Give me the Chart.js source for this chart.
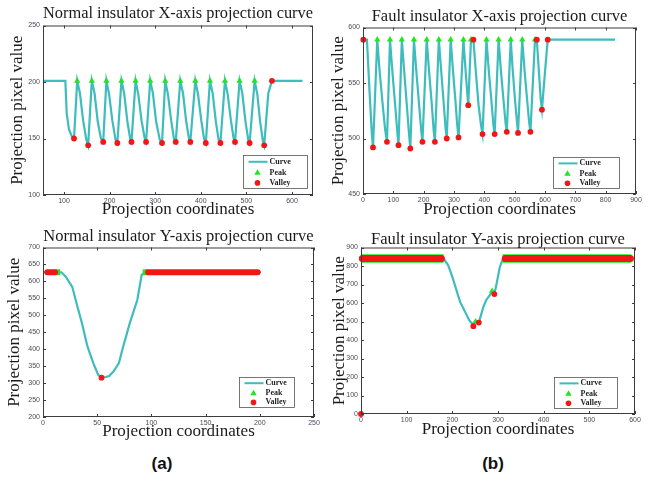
<!DOCTYPE html>
<html>
<head>
<meta charset="utf-8">
<script src="https://cdn.jsdelivr.net/npm/chart.js@4.4.0/dist/chart.umd.min.js"></script>
<style>
  body { margin: 0; background: #fff; width: 648px; height: 477px; position: relative; overflow: hidden; }
  canvas { position: absolute; }
  .tag { position: absolute; font: bold 17px "Liberation Sans", Arial, sans-serif; color: #111; transform: translate(-50%, -50%); }
</style>
</head>
<body>
<canvas id="normal-x" width="324" height="225" style="left:0;top:0"></canvas>
<canvas id="fault-x" width="324" height="225" style="left:324px;top:0"></canvas>
<canvas id="normal-y" width="324" height="225" style="left:0;top:225px"></canvas>
<canvas id="fault-y" width="324" height="225" style="left:324px;top:225px"></canvas>
<div class="tag" style="left:162px;top:464px">(a)</div>
<div class="tag" style="left:493px;top:464px">(b)</div>
<script>
// normal insulator, X-axis projection
const nxCurveX = [54, 103, 106, 111, 117, 122, 129, 135, 142, 149, 153, 161, 167, 174, 181, 186, 193, 199, 206, 213, 217,
  226, 232, 239, 245, 248, 257, 263, 270, 277, 280, 289, 295, 302, 310, 315, 322, 328, 335, 341, 345, 355, 361, 368, 374, 377,
  388, 394, 401, 407, 411, 420, 426, 433, 439, 443, 453, 459, 466, 472, 475, 485, 491, 498, 504, 507, 518, 524, 530, 536, 539,
  548, 556, 623];
const nxCurveY = [201, 201, 172, 158, 152, 150, 201, 190, 166, 149, 144, 201, 190, 165, 150, 147, 201, 189, 166, 149, 146,
  201, 190, 165, 150, 147, 201, 189, 166, 150, 147, 201, 190, 165, 149, 146, 201, 189, 166, 150, 147, 201, 190, 165, 150, 147,
  201, 189, 166, 150, 146, 201, 190, 165, 149, 146, 201, 189, 166, 150, 147, 201, 190, 165, 149, 146, 201, 189, 165, 148, 144,
  190, 201, 201];
const nxPeakX = [129, 161, 193, 226, 257, 289, 322, 355, 388, 420, 453, 485, 518];
const nxPeakY = [201, 201, 201, 201, 201, 201, 201, 201, 201, 201, 201, 201, 201];
const nxValleyX = [122, 153, 186, 217, 248, 280, 315, 345, 377, 411, 443, 475, 507, 539, 556];
const nxValleyY = [150, 144, 147, 146, 147, 147, 146, 147, 147, 146, 146, 147, 146, 144, 201];
const nxTickX = [100, 200, 300, 400, 500, 600];
const nxTickY = [100, 150, 200, 250];

// fault insulator, X-axis projection
const fxCurveX = [0, 13, 22, 29, 33, 47, 55, 65, 73, 79, 89, 97, 106, 113, 117, 128, 136, 145, 152, 156, 168, 176, 185, 192, 196,
  210, 218, 227, 233, 237, 250, 258, 266, 272, 276, 289, 297, 305, 311, 315, 331, 338, 344, 347, 356, 364, 372, 381, 389, 394,
  407, 415, 424, 430, 434, 447, 455, 464, 470, 474, 487, 494, 502, 508, 511, 525, 533, 542, 548, 552, 567, 573, 580, 586, 590,
  600, 609, 831];
const fxCurveY = [589, 589, 540, 505, 492, 589, 560, 530, 508, 497, 589, 560, 530, 506, 494, 589, 560, 528, 503, 491, 589, 560, 530, 507, 497,
  589, 560, 530, 507, 497, 589, 560, 532, 510, 500, 589, 560, 533, 511, 501, 589, 562, 540, 530, 589, 589, 560, 530, 512, 504,
  589, 560, 532, 512, 504, 589, 560, 532, 514, 506, 589, 560, 532, 514, 505, 589, 560, 532, 514, 506, 589, 589, 560, 535, 526,
  560, 589, 589];
const fxPeakX = [47, 89, 128, 168, 210, 250, 289, 331, 356, 407, 447, 487, 525, 567];
const fxPeakY = [589, 589, 589, 589, 589, 589, 589, 589, 589, 589, 589, 589, 589, 589];
const fxValleyX = [1, 33, 79, 117, 156, 196, 237, 276, 315, 347, 364, 394, 434, 474, 511, 552, 573, 590, 609];
const fxValleyY = [589, 492, 497, 494, 491, 497, 497, 500, 501, 530, 589, 504, 504, 506, 505, 506, 589, 526, 589];
const fxTickX = [0, 100, 200, 300, 400, 500, 600, 700, 800, 900];
const fxTickY = [450, 500, 550, 600];

// normal insulator, Y-axis projection
const nyCurveX = [0, 17, 21, 27, 31, 36, 41, 47, 51, 54, 58, 61, 65, 70, 74, 80, 87, 91, 94, 201];
const nyCurveY = [627, 627, 614, 584, 535, 476, 408, 354, 324, 316, 318, 321, 334, 359, 408, 476, 545, 619, 627, 627];
const nyPeakBands = [[11, 16], [92, 97]];
const nyValleyBands = [[4, 11], [97, 198]];
const nyBandLevel = 627;
const nyValleyX = [54];
const nyValleyY = [316];
const nyTickX = [0, 50, 100, 150, 200, 250];
const nyTickY = [200, 250, 300, 350, 400, 450, 500, 550, 600, 650, 700];

// fault insulator, Y-axis projection
const fyCurveX = [1, 181, 191, 200, 209, 217, 228, 237, 244, 246, 251, 258, 268, 274, 282, 287, 292, 297, 304, 310, 315, 592];
const fyCurveY = [840, 840, 804, 741, 670, 606, 552, 507, 486, 475, 500, 494, 579, 615, 642, 664, 648, 705, 795, 835, 840, 840];
const fyPeakBands = [[2, 181], [310, 592]];
const fyValleyBands = [[3, 176], [316, 590]];
const fyBandLevel = 840;
const fyPeakX = [251, 287];
const fyPeakY = [500, 664];
const fyValleyX = [0, 246, 258, 292];
const fyValleyY = [0, 475, 494, 648];
const fyTickX = [0, 100, 200, 300, 400, 500, 600];
const fyTickY = [0, 100, 200, 300, 400, 500, 600, 700, 800, 900];

const legendLabels = ["Curve", "Peak", "Valley"];

const CURVE_COLOR = "#3fbcbc";
const PEAK_COLOR = "#1fe61f";
const VALLEY_COLOR = "#f21616";
const SERIF = "'Liberation Serif', 'Times New Roman', serif";
const SANS = "'Liberation Sans', Arial, sans-serif";

function zip(xs, ys) {
  return xs.map((x, i) => ({ x: x, y: ys[i] }));
}

function curveSet(xs, ys) {
  return { data: zip(xs, ys), showLine: true, borderColor: CURVE_COLOR, borderWidth: 2.2, pointRadius: 0, order: 3, clip: false };
}
function peakSet(xs, ys) {
  return { data: zip(xs, ys), pointStyle: "triangle", pointRadius: 3.6, backgroundColor: PEAK_COLOR, borderColor: PEAK_COLOR, borderWidth: 0, order: 2, clip: false };
}
function valleySet(xs, ys) {
  return { data: zip(xs, ys), pointStyle: "circle", pointRadius: 2.9, backgroundColor: VALLEY_COLOR, borderColor: VALLEY_COLOR, borderWidth: 0, order: 0, clip: false };
}
// runs of markers packed so tight they read as a thick bar
function bandSets(bands, level, color, width, order, cap) {
  return bands.map((b) => ({
    data: [{ x: b[0], y: level }, { x: b[1], y: level }],
    showLine: true, borderColor: color, borderWidth: width, borderCapStyle: cap,
    pointRadius: 0, order: order, clip: false,
  }));
}

const frameAndLegend = {
  id: "frameAndLegend",
  afterDatasetsDraw(chart, args, opts) {
    const { ctx, chartArea: a, scales } = chart;
    const tk = 3;
    ctx.save();
    ctx.strokeStyle = "#3c3c3c";
    ctx.lineWidth = 1;
    ctx.strokeRect(a.left + 0.5, a.top + 0.5, a.right - a.left - 1, a.bottom - a.top - 1);
    ctx.beginPath();
    scales.x.ticks.forEach((t) => {
      const px = Math.round(scales.x.getPixelForValue(t.value)) + 0.5;
      ctx.moveTo(px, a.bottom); ctx.lineTo(px, a.bottom - tk);
      ctx.moveTo(px, a.top); ctx.lineTo(px, a.top + tk);
    });
    scales.y.ticks.forEach((t) => {
      const py = Math.round(scales.y.getPixelForValue(t.value)) + 0.5;
      ctx.moveTo(a.left, py); ctx.lineTo(a.left + tk, py);
      ctx.moveTo(a.right, py); ctx.lineTo(a.right - tk, py);
    });
    ctx.stroke();

    // legend box, lower right of the axes
    const r = opts.box;
    const lx = Math.round(a.right - r.right - r.w) + 0.5;
    const ly = Math.round(a.bottom - r.bottom - r.h) + 0.5;
    ctx.fillStyle = "#fff";
    ctx.fillRect(lx, ly, r.w, r.h);
    ctx.strokeStyle = "#555";
    ctx.lineWidth = 0.8;
    ctx.strokeRect(lx, ly, r.w, r.h);
    const rows = [0.19, 0.52, 0.83].map((f) => ly + r.h * f);
    const mx = lx + 14;
    ctx.strokeStyle = CURVE_COLOR;
    ctx.lineWidth = 2;
    ctx.beginPath();
    ctx.moveTo(lx + 5, rows[0]);
    ctx.lineTo(lx + 24, rows[0]);
    ctx.stroke();
    ctx.fillStyle = PEAK_COLOR;
    ctx.beginPath();
    ctx.moveTo(mx, rows[1] - 3.4);
    ctx.lineTo(mx + 3.2, rows[1] + 2.2);
    ctx.lineTo(mx - 3.2, rows[1] + 2.2);
    ctx.closePath();
    ctx.fill();
    ctx.fillStyle = VALLEY_COLOR;
    ctx.beginPath();
    ctx.arc(mx, rows[2], 2.8, 0, Math.PI * 2);
    ctx.fill();
    ctx.fillStyle = "#222";
    ctx.font = "bold 8px " + SERIF;
    ctx.textBaseline = "middle";
    legendLabels.forEach((t, i) => ctx.fillText(t, lx + 26, rows[i]));
    ctx.restore();
  },
};

function makeChart(id, cfg) {
  const tickFont = { family: SANS, size: 7 };
  return new Chart(document.getElementById(id), {
    type: "scatter",
    data: { datasets: cfg.datasets },
    options: {
      responsive: false,
      animation: false,
      devicePixelRatio: 1,
      layout: { padding: { left: 0, right: cfg.padRight, top: 0, bottom: 0 } },
      plugins: {
        legend: { display: false },
        tooltip: { enabled: false },
        title: {
          display: true,
          fullSize: false,
          text: cfg.title,
          color: "#1a1a1a",
          font: { family: SERIF, size: 16.5, weight: "normal", lineHeight: 1 },
          padding: cfg.titlePad,
        },
        frameAndLegend: { box: cfg.legendBox },
      },
      scales: {
        x: {
          type: "linear",
          min: cfg.xMin,
          max: cfg.xMax,
          grid: { display: false, drawTicks: false },
          border: { display: false },
          ticks: { font: tickFont, color: "#4a4a5a", padding: 2, autoSkip: false, maxRotation: 0 },
          title: {
            display: true,
            text: "Projection coordinates",
            color: "#1a1a1a",
            font: { family: SERIF, size: 17 },
            padding: { top: 0, bottom: cfg.xTitlePad },
          },
          afterBuildTicks: (s) => { s.ticks = cfg.xTicks.map((v) => ({ value: v })); },
          afterFit: (s) => { s.height = cfg.xHeight; },
        },
        y: {
          type: "linear",
          min: cfg.yMin,
          max: cfg.yMax,
          grid: { display: false, drawTicks: false },
          border: { display: false },
          ticks: { font: tickFont, color: "#4a4a5a", padding: 3, autoSkip: false },
          title: {
            display: true,
            text: "Projection pixel value",
            color: "#1a1a1a",
            font: { family: SERIF, size: 17 },
            padding: { top: cfg.yTitlePad, bottom: 0 },
          },
          afterBuildTicks: (s) => { s.ticks = cfg.yTicks.map((v) => ({ value: v })); },
          afterFit: (s) => { s.width = cfg.yWidth; },
        },
      },
    },
    plugins: [frameAndLegend],
  });
}

makeChart("normal-x", {
  title: "Normal insulator X-axis projection curve",
  datasets: [curveSet(nxCurveX, nxCurveY), peakSet(nxPeakX, nxPeakY), valleySet(nxValleyX, nxValleyY)],
  xMin: 54, xMax: 646, yMin: 100, yMax: 250,
  xTicks: nxTickX, yTicks: nxTickY,
  yWidth: 43, padRight: 11, xHeight: 30,
  titlePad: { top: 5.5, bottom: 3.5 },
  xTitlePad: 4.8, yTitlePad: 7.3,
  legendBox: { w: 64, h: 33, right: 6, bottom: 7 },
});

makeChart("fault-x", {
  title: "Fault insulator X-axis projection curve",
  datasets: [curveSet(fxCurveX, fxCurveY), peakSet(fxPeakX, fxPeakY), valleySet(fxValleyX, fxValleyY)],
  xMin: 0, xMax: 900, yMin: 450, yMax: 600,
  xTicks: fxTickX, yTicks: fxTickY,
  yWidth: 39, padRight: 12, xHeight: 31,
  titlePad: { top: 8, bottom: 3 },
  xTitlePad: 4.8, yTitlePad: 4.3,
  legendBox: { w: 66, h: 31, right: 17, bottom: 6 },
});

makeChart("normal-y", {
  title: "Normal insulator Y-axis projection curve",
  datasets: [curveSet(nyCurveX, nyCurveY)]
    .concat(bandSets(nyPeakBands, nyBandLevel, PEAK_COLOR, 6, 2, "butt"))
    .concat(bandSets(nyValleyBands, nyBandLevel, VALLEY_COLOR, 6, 0, "round"))
    .concat([valleySet(nyValleyX, nyValleyY)]),
  xMin: 0, xMax: 250, yMin: 200, yMax: 700,
  xTicks: nyTickX, yTicks: nyTickY,
  yWidth: 43, padRight: 10, xHeight: 33,
  titlePad: { top: 3, bottom: 3 },
  xTitlePad: 7.8, yTitlePad: 4.8,
  legendBox: { w: 55, h: 30, right: 20, bottom: 10 },
});

makeChart("fault-y", {
  title: "Fault insulator Y-axis projection curve",
  datasets: [curveSet(fyCurveX, fyCurveY)]
    .concat(bandSets(fyPeakBands, fyBandLevel, PEAK_COLOR, 8.5, 2, "butt"))
    .concat(bandSets(fyValleyBands, fyBandLevel, VALLEY_COLOR, 7, 1, "round"))
    .concat([peakSet(fyPeakX, fyPeakY), valleySet(fyValleyX, fyValleyY)]),
  xMin: 0, xMax: 600, yMin: 0, yMax: 900,
  xTicks: fyTickX, yTicks: fyTickY,
  yWidth: 37, padRight: 13, xHeight: 36,
  titlePad: { top: 6, bottom: 0 },
  xTitlePad: 10.3, yTitlePad: 5.3,
  legendBox: { w: 63, h: 31, right: 18, bottom: 6 },
});
</script>
</body>
</html>
